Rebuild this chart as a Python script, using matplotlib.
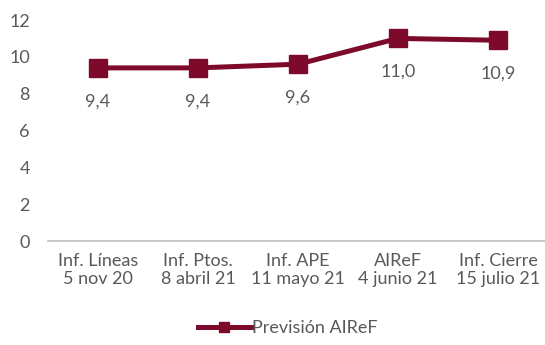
import matplotlib.pyplot as plt

categories = ['Inf. Líneas\n5 nov 20', 'Inf. Ptos.\n8 abril 21', 'Inf. APE\n11 mayo 21',
              'AIReF\n4 junio 21', 'Inf. Cierre\n15 julio 21']
values = [9.4, 9.4, 9.6, 11.0, 10.9]
labels = ['9,4', '9,4', '9,6', '11,0', '10,9']

red = '#7d0a2b'
grey = '#595959'

plt.rcParams['font.family'] = ['Lato', 'DejaVu Sans']

fig = plt.figure(figsize=(5.45, 3.45), dpi=100)
ax = fig.add_axes([48/545, 1 - 241/345, 497/545, (241 - 20)/345])

x = list(range(len(values)))
ax.plot(x, values, color=red, lw=3.6, marker='s', markersize=13.5, label='Previsión AIReF')
for xi, v, t in zip(x, values, labels):
    ax.annotate(t, (xi, v), xytext=(0, -24), textcoords='offset points',
                ha='center', va='center', fontsize=13, color=grey)

ax.set_ylim(0, 12)
ax.set_xlim(-0.5, 4.47)
ax.set_yticks(range(0, 13, 2))
ax.set_xticks(x)
ax.set_xticklabels(categories, fontsize=13, color=grey, linespacing=1.15)
ax.tick_params(axis='y', length=0, pad=13, labelsize=13, labelcolor=grey)
ax.tick_params(axis='x', length=0, pad=9)
for s in ['top', 'right', 'left']:
    ax.spines[s].set_visible(False)
ax.spines['bottom'].set_color('#bfbfbf')
ax.spines['bottom'].set_linewidth(1.2)

leg = fig.legend(loc='center', bbox_to_anchor=(288/545, 1 - 328/345), frameon=False,
                 fontsize=13, handlelength=2.9, handletextpad=0.1, markerscale=0.5)
for t in leg.get_texts():
    t.set_color(grey)

fig.savefig('out.png', dpi=100)
